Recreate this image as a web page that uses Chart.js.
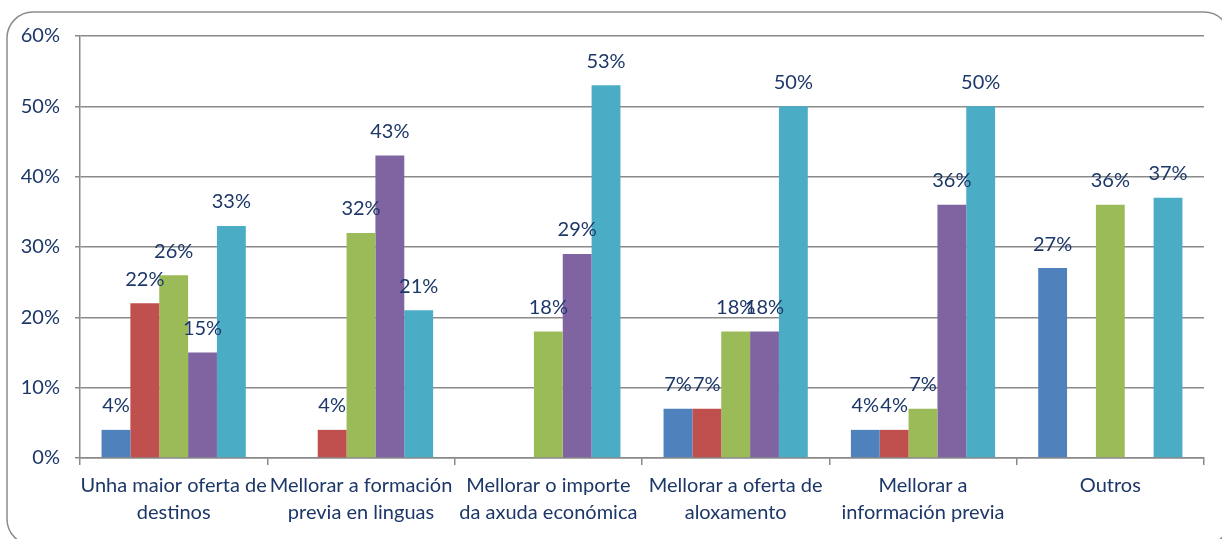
<!DOCTYPE html>
<html>
<head>
<meta charset="utf-8">
<script src="https://cdn.jsdelivr.net/npm/chart.js@4"></script>
<style>
  html, body { margin: 0; padding: 0; background: #ffffff; }
  #wrap { width: 1222px; height: 539px; position: relative; overflow: hidden; }
</style>
</head>
<body>
<div id="wrap"><canvas id="c" width="1222" height="539"></canvas></div>
<script>
// Categories (two-line axis labels)
const categories = [
  ["Unha maior oferta de", "destinos"],
  ["Mellorar a formación", "previa en linguas"],
  ["Mellorar o importe", "da axuda económica"],
  ["Mellorar a oferta de", "aloxamento"],
  ["Mellorar a", "información previa"],
  ["Outros"]
];

// Series values in percent (null = no answer in that group)
const serie1 = [4, null, null, 7, 4, 27];
const serie2 = [22, 4, null, 7, 4, null];
const serie3 = [26, 32, 18, 18, 7, 36];
const serie4 = [15, 43, 29, 18, 36, null];
const serie5 = [33, 21, 53, 50, 50, 37];

// Value axis
const yMin = 0;
const yMax = 60;
const yStep = 10;

const TEXT = '#1c3768';
const GRID = '#8a8a8a';
const FONT = 'Lato, "Open Sans", sans-serif';
const FONT_SIZE = 20;

// Rounded frame around the whole chart (right and bottom run past the canvas edge)
const framePlugin = {
  id: 'frame',
  beforeDraw(chart) {
    const ctx = chart.ctx;
    ctx.save();
    ctx.strokeStyle = '#8c8c8c';
    ctx.lineWidth = 1.5;
    ctx.beginPath();
    ctx.roundRect(7, 12, 1223, 533, 26);
    ctx.stroke();
    ctx.restore();
  }
};

// Percentage labels above each bar
const valueLabels = {
  id: 'valueLabels',
  afterDatasetsDraw(chart) {
    const ctx = chart.ctx;
    ctx.save();
    ctx.font = FONT_SIZE + 'px ' + FONT;
    ctx.fillStyle = TEXT;
    ctx.textAlign = 'center';
    ctx.textBaseline = 'middle';
    chart.data.datasets.forEach((ds, i) => {
      const meta = chart.getDatasetMeta(i);
      meta.data.forEach((bar, j) => {
        const v = ds.data[j];
        if (v === null || v === undefined) return;
        ctx.fillText(v + '%', bar.x, bar.y - 24);
      });
    });
    ctx.restore();
  }
};

const mk = (data, color) => ({
  data: data,
  backgroundColor: color,
  borderWidth: 0,
  barPercentage: 1.0,
  categoryPercentage: 0.77
});

new Chart(document.getElementById('c'), {
  type: 'bar',
  data: {
    labels: categories,
    datasets: [
      mk(serie1, '#4f81bd'),
      mk(serie2, '#c0504d'),
      mk(serie3, '#9bbb59'),
      mk(serie4, '#8064a2'),
      mk(serie5, '#4bacc6')
    ]
  },
  options: {
    responsive: false,
    animation: false,
    devicePixelRatio: 1,
    layout: { padding: { left: 0, top: 36, right: 18, bottom: 0 } },
    plugins: { legend: { display: false }, tooltip: { enabled: false } },
    scales: {
      x: {
        grid: {
          offset: true,
          drawOnChartArea: false,
          drawTicks: true,
          tickLength: 7,
          color: GRID,
          lineWidth: 1.5
        },
        border: { color: GRID, width: 1.5 },
        ticks: {
          color: TEXT,
          font: { family: FONT, size: FONT_SIZE, lineHeight: 1.35 },
          maxRotation: 0,
          minRotation: 0,
          autoSkip: false,
          padding: 7
        },
        afterFit(scale) { scale.height = 81; }
      },
      y: {
        min: yMin,
        max: yMax,
        grid: {
          color: GRID,
          lineWidth: 1.5,
          drawTicks: true,
          tickLength: 5
        },
        border: { color: GRID, width: 1.5 },
        ticks: {
          stepSize: yStep,
          color: TEXT,
          font: { family: FONT, size: FONT_SIZE },
          padding: 15,
          callback: v => v + '%'
        },
        afterFit(scale) { scale.width = 80; }
      }
    }
  },
  plugins: [framePlugin, valueLabels]
});
</script>
</body>
</html>
